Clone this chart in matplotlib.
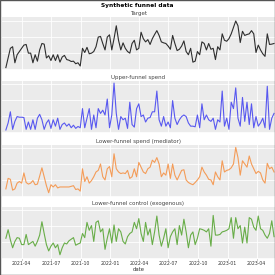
import numpy as np
import pandas as pd
import matplotlib
matplotlib.use("Agg")
import matplotlib.pyplot as plt
import matplotlib.dates as mdates
from matplotlib.patches import Rectangle
from matplotlib.ticker import MaxNLocator, NullFormatter

start_date = "2021-02-11"
n_weeks = 120

target = [5,35,65,70,20,45,55,65,75,77,
          50,50,20,45,25,60,80,78,35,42,
          27,45,27,45,22,38,43,30,28,24,
          25,17,20,10,65,52,68,48,50,55,
          70,100,102,80,60,100,107,60,95,135,
          90,60,82,65,55,50,80,90,60,65,
          115,95,85,92,77,95,108,120,105,85,
          82,80,72,62,105,80,58,62,72,88,
          55,45,65,22,25,55,45,85,80,60,
          80,62,65,30,70,60,110,90,87,95,
          110,130,150,135,83,118,105,108,110,120,
          110,52,75,60,48,40,110,77,78,80]

upper_spend = [7,29,64,9,34,49,47,47,46,9,
               32,9,39,9,44,56,39,9,29,39,
               12,39,19,44,9,24,29,19,26,14,
               22,12,18,14,74,14,44,74,9,54,
               14,74,59,69,54,104,14,54,154,59,
               9,49,39,44,12,94,24,16,74,89,
               49,54,32,44,46,64,64,129,39,19,
               49,19,32,14,99,44,24,39,49,54,
               49,29,19,19,17,54,14,89,39,54,
               39,34,44,9,39,32,129,19,44,9,
               94,74,139,44,19,109,34,94,24,89,
               14,49,19,29,44,14,144,9,44,59]

lower_spend = [23,56,53,19,23,41,46,41,73,43,
               38,41,49,36,38,63,89,61,33,11,
               36,29,36,26,29,29,29,29,29,31,
               33,21,23,16,86,46,61,41,49,61,
               76,81,101,61,51,86,93,61,133,86,
               76,71,73,71,81,56,61,86,61,106,
               91,76,71,86,91,113,106,121,101,61,
               73,66,101,56,101,66,51,66,81,83,
               51,43,39,36,43,51,61,91,76,66,
               53,51,36,76,61,51,111,76,81,83,
               89,101,153,121,66,111,101,91,126,101,
               86,71,78,73,51,41,103,86,91,76]

lower_control = [62,89,57,32,52,64,62,42,42,74,
                 42,47,52,37,52,72,114,77,42,22,
                 37,47,32,42,10,32,47,44,54,59,
                 64,40,44,47,77,64,112,87,102,52,
                 112,117,82,92,27,62,92,47,104,52,
                 92,82,52,44,67,77,82,112,92,124,
                 77,52,112,72,92,42,82,132,72,37,
                 62,92,32,67,82,92,42,102,72,122,
                 82,32,72,82,42,62,92,90,87,82,
                 92,37,134,72,72,74,82,84,87,92,
                 127,62,127,92,102,47,97,47,127,122,
                 97,87,132,92,87,72,62,77,117,67]

titles = ["Target", "Upper-funnel spend", "Lower-funnel spend (mediator)",
          "Lower-funnel control (exogenous)"]
series = [target, upper_spend, lower_spend, lower_control]
colors = ["#2e2e2e", "#5858f0", "#f49c58", "#68ad48"]

dates = pd.date_range(start_date, periods=n_weeks, freq="7D")

W, H = 275, 275
fig = plt.figure(figsize=(2.75, 2.75), dpi=100)
fig.patch.set_facecolor("white")

tops = [17.3, 80.7, 144.7, 206.7]
bottoms = [70.0, 133.0, 197.0, 258.7]
axes = []
for k in range(4):
    rect = [2 / W, 1 - bottoms[k] / H, 273 / W, (bottoms[k] - tops[k]) / H]
    if k == 0:
        ax = fig.add_axes(rect)
    else:
        ax = fig.add_axes(rect, sharex=axes[0], sharey=axes[0])
    axes.append(ax)

for ax, s, c, t in zip(axes, series, colors, titles):
    ax.set_facecolor("#ebebeb")
    ax.plot(dates, s, color=c, lw=0.8)
    ax.grid(True, color="white", lw=0.6)
    ax.set_axisbelow(True)
    for sp in ax.spines.values():
        sp.set_visible(False)
    ax.set_title(t, fontsize=4.0, color="#444444", pad=1.3)
    ax.yaxis.set_major_locator(MaxNLocator(4))
    ax.yaxis.set_major_formatter(NullFormatter())
    ax.tick_params(axis="y", length=0)
    ax.tick_params(axis="x", length=1, width=0.4, color="#555555",
                   labelsize=3.3, labelcolor="#333333", pad=1)

axes[0].set_xlim(dates[0] - pd.Timedelta(days=12), dates[-1] + pd.Timedelta(days=3))
axes[0].xaxis.set_major_locator(mdates.MonthLocator(bymonth=[1, 4, 7, 10]))
axes[0].xaxis.set_major_formatter(mdates.DateFormatter("%Y-%m"))
for ax in axes[:3]:
    ax.tick_params(axis="x", labelbottom=False, length=0)
axes[3].set_xlabel("date", fontsize=3.8, color="#333333", labelpad=0.5)

fig.text(0.5, 1 - 5 / H, "Synthetic funnel data", ha="center", va="center",
         fontsize=4.2, fontweight="bold")

fig.add_artist(Rectangle((0, 0), 1, 1, transform=fig.transFigure, fill=False,
                         ec="#555555", lw=1.0))

fig.savefig("out.png", dpi=100)
